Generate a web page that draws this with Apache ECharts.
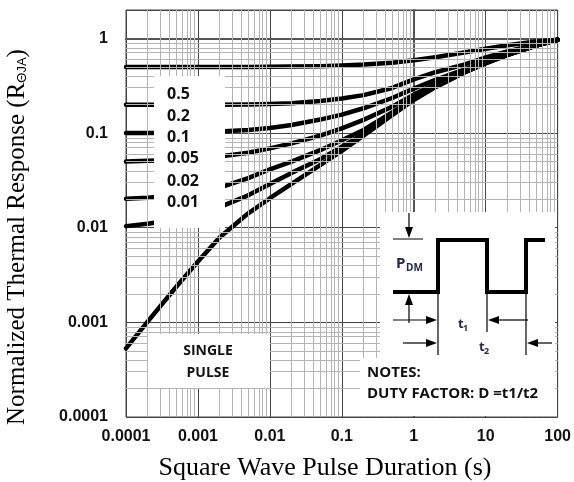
<!DOCTYPE html>
<html>
<head>
<meta charset="utf-8">
<script src="https://cdn.jsdelivr.net/npm/echarts@6/dist/echarts.min.js"></script>
<style>
  html, body { margin: 0; padding: 0; background: #fff; }
  #chart { width: 574px; height: 482px; }
</style>
</head>
<body>
<div id="chart"></div>
<script>
// pulse durations (s) where the curves were read
const pulseTimes = [1e-4, 2e-4, 5e-4, 1e-3, 2e-3, 5e-3, 0.01, 0.02, 0.05, 0.1, 0.2, 0.5, 1, 2, 5, 10, 20, 50, 100];

// normalized response for each duty factor
const duty05  = [0.5, 0.5, 0.5, 0.5, 0.5, 0.5, 0.502, 0.505, 0.51, 0.518, 0.53, 0.555, 0.59, 0.635, 0.71, 0.78, 0.85, 0.93, 0.97];
const duty02  = [0.2, 0.2, 0.2, 0.2, 0.2, 0.201, 0.203, 0.207, 0.218, 0.232, 0.252, 0.3, 0.37, 0.44, 0.53, 0.63, 0.73, 0.865, 0.97];
const duty01  = [0.1, 0.1, 0.101, 0.102, 0.104, 0.108, 0.113, 0.122, 0.139, 0.157, 0.183, 0.235, 0.295, 0.365, 0.47, 0.575, 0.685, 0.845, 0.97];
const duty005 = [0.05, 0.051, 0.052, 0.054, 0.0565, 0.062, 0.069, 0.078, 0.094, 0.112, 0.138, 0.19, 0.255, 0.33, 0.445, 0.56, 0.675, 0.84, 0.97];
const duty002 = [0.0202, 0.0207, 0.022, 0.0238, 0.0265, 0.0335, 0.0415, 0.05, 0.066, 0.084, 0.108, 0.165, 0.235, 0.315, 0.44, 0.555, 0.67, 0.84, 0.97];
const duty001 = [0.0104, 0.011, 0.0122, 0.014, 0.0165, 0.022, 0.029, 0.038, 0.053, 0.072, 0.098, 0.158, 0.229, 0.31, 0.437, 0.55, 0.668, 0.84, 0.97];
const singlePulse = [0.00053, 0.00102, 0.00238, 0.0044, 0.0079, 0.0142, 0.0205, 0.029, 0.046, 0.065, 0.094, 0.155, 0.224, 0.306, 0.434, 0.545, 0.67, 0.84, 0.97];

const dutyLabels = ['0.5', '0.2', '0.1', '0.05', '0.02', '0.01'];
const xTickLabels = ['0.0001', '0.001', '0.01', '0.1', '1', '10', '100'];
const yTickLabels = ['0.0001', '0.001', '0.01', '0.1', '1'];

const curves = [duty05, duty02, duty01, duty005, duty002, duty001, singlePulse];

function toLogPoints(values) {
  return values.map((v, i) => [Math.log10(pulseTimes[i]), Math.log10(v)]);
}

// minor grid positions (2..9 of every decade)
const minorX = [];
for (let d = -4; d < 2; d++) {
  for (let k = 2; k <= 9; k++) minorX.push(d + Math.log10(k));
}
const minorY = [];
for (let d = -4; d < 0; d++) {
  for (let k = 2; k <= 9; k++) minorY.push(d + Math.log10(k));
}

function arrow(x1, y1, x2, y2) {
  const len = Math.hypot(x2 - x1, y2 - y1);
  const ux = (x2 - x1) / len, uy = (y2 - y1) / len;
  const hl = 11, hw = 4;
  const bx = x2 - ux * hl, by = y2 - uy * hl;
  return [
    { type: 'line', z: 12, shape: { x1: x1, y1: y1, x2: bx, y2: by }, style: { stroke: '#000', lineWidth: 1.2 } },
    { type: 'polygon', z: 12, shape: { points: [[x2, y2], [bx - uy * hw, by + ux * hw], [bx + uy * hw, by - ux * hw]] }, style: { fill: '#000' } }
  ];
}

const labelFont = { fontFamily: '"Open Sans", sans-serif', fontWeight: 'bold', fill: '#111' };
const serif = '"Liberation Serif", "Times New Roman", serif';

const graphics = [
  // white boxes over the grid
  { type: 'rect', z: 10, shape: { x: 154, y: 76, width: 71, height: 152 }, style: { fill: '#fff' } },
  { type: 'rect', z: 10, shape: { x: 148, y: 334, width: 122, height: 54 }, style: { fill: '#fff' } },
  { type: 'rect', z: 10, shape: { x: 380, y: 212, width: 175, height: 204 }, style: { fill: '#fff' } },
  { type: 'rect', z: 10, shape: { x: 360, y: 358, width: 195, height: 58 }, style: { fill: '#fff' } },
  // square wave
  { type: 'polyline', z: 12, shape: { points: [[393, 292], [438, 292], [438, 240], [487, 240], [487, 292], [526, 292], [526, 240], [545, 240]] },
    style: { stroke: '#000', lineWidth: 4, fill: null } },
  { type: 'line', z: 12, shape: { x1: 393, y1: 239, x2: 423, y2: 239 }, style: { stroke: '#000', lineWidth: 1 } },
  { type: 'line', z: 12, shape: { x1: 438, y1: 292, x2: 438, y2: 355 }, style: { stroke: '#000', lineWidth: 1.2 } },
  { type: 'line', z: 12, shape: { x1: 487, y1: 292, x2: 487, y2: 332 }, style: { stroke: '#000', lineWidth: 1.2 } },
  { type: 'line', z: 12, shape: { x1: 526, y1: 292, x2: 526, y2: 355 }, style: { stroke: '#000', lineWidth: 1.2 } },
  ...arrow(409, 213, 409, 238),
  ...arrow(409, 323, 409, 294),
  ...arrow(393, 320, 437, 320),
  ...arrow(528, 320, 488, 320),
  ...arrow(403, 343, 437, 343),
  ...arrow(552, 343, 527, 343),
  { type: 'text', z: 12, style: { text: 'P', x: 396, y: 264, fontSize: 15, ...labelFont, fill: '#22264a', verticalAlign: 'middle' } },
  { type: 'text', z: 12, style: { text: 'DM', x: 406, y: 268, fontSize: 10, ...labelFont, fill: '#22264a', verticalAlign: 'middle' } },
  { type: 'text', z: 12, style: { text: 't', x: 458, y: 324, fontSize: 13, ...labelFont, fill: '#22264a', verticalAlign: 'middle' } },
  { type: 'text', z: 12, style: { text: '1', x: 463, y: 328, fontSize: 9, ...labelFont, fill: '#22264a', verticalAlign: 'middle' } },
  { type: 'text', z: 12, style: { text: 't', x: 479, y: 347, fontSize: 13, ...labelFont, fill: '#22264a', verticalAlign: 'middle' } },
  { type: 'text', z: 12, style: { text: '2', x: 484, y: 351, fontSize: 9, ...labelFont, fill: '#22264a', verticalAlign: 'middle' } },
  { type: 'text', z: 12, style: { text: 'NOTES:', x: 367, y: 373, fontSize: 15, ...labelFont, verticalAlign: 'middle' } },
  { type: 'text', z: 12, style: { text: 'DUTY FACTOR: D =t1/t2', x: 367, y: 394, fontSize: 15, ...labelFont, verticalAlign: 'middle' } },
  { type: 'text', z: 12, style: { text: 'SINGLE', x: 208, y: 351, fontSize: 14, ...labelFont, align: 'center', verticalAlign: 'middle' } },
  { type: 'text', z: 12, style: { text: 'PULSE', x: 208, y: 373, fontSize: 14, ...labelFont, align: 'center', verticalAlign: 'middle' } },
  // axis titles
  { type: 'text', z: 12, x: 325, y: 468, style: { text: 'Square Wave Pulse Duration (s)', fontFamily: serif, fontSize: 26, fill: '#000', align: 'center', verticalAlign: 'middle' } },
  { type: 'text', z: 12, x: 17, y: 237, rotation: Math.PI / 2,
    style: { text: 'Normalized Thermal Response (R{s|ΘJA})', fontFamily: serif, fontSize: 25, fill: '#000', align: 'center', verticalAlign: 'middle',
      rich: { s: { fontFamily: '"Liberation Sans", Arial, sans-serif', fontSize: 13, fill: '#000', padding: [10, 0, 0, 0] } } } }
];

const dutyLabelY = [94, 116, 137.5, 158.5, 181, 202.5];
dutyLabels.forEach((t, i) => {
  graphics.push({ type: 'text', z: 12, style: { text: t, x: 167, y: dutyLabelY[i], fontSize: 16, ...labelFont, verticalAlign: 'middle' } });
});

const series = curves.map(c => ({
  type: 'line',
  data: toLogPoints(c),
  showSymbol: false,
  smooth: false,
  lineStyle: { color: '#000', width: 4.5, join: 'round', cap: 'round' },
  z: 3
}));

series.push({
  type: 'line',
  data: [],
  silent: true,
  z: 1,
  markLine: {
    silent: true,
    symbol: ['none', 'none'],
    label: { show: false },
    animation: false,
    lineStyle: { color: '#b4b4b4', width: 1, type: 'solid' },
    data: minorX.map(v => ({ xAxis: v })).concat(minorY.map(v => ({ yAxis: v })))
  }
});

const chart = echarts.init(document.getElementById('chart'));
chart.setOption({
  animation: false,
  backgroundColor: '#fff',
  grid: { left: 126, top: 10, width: 432, height: 407, show: true, borderColor: '#444', borderWidth: 1 },
  xAxis: {
    type: 'value',
    min: -4,
    max: 2,
    interval: 1,
    axisLine: { lineStyle: { color: '#555', width: 2 } },
    axisTick: { show: false },
    splitLine: { show: true, lineStyle: { color: '#444', width: 1 } },
    axisLabel: {
      margin: 12,
      color: '#111',
      fontFamily: '"Liberation Sans", Arial, sans-serif',
      fontWeight: 'bold',
      fontSize: 16,
      formatter: v => xTickLabels[Math.round(v) + 4]
    }
  },
  yAxis: {
    type: 'value',
    min: -4,
    max: Math.log10(2),
    interval: 1,
    axisLine: { show: true, lineStyle: { color: '#555', width: 2 } },
    axisTick: { show: false },
    splitLine: { show: true, lineStyle: { color: '#444', width: 1 } },
    axisLabel: {
      margin: 18,
      color: '#111',
      fontFamily: '"Liberation Sans", Arial, sans-serif',
      fontWeight: 'bold',
      fontSize: 16,
      formatter: v => (Math.abs(v - Math.round(v)) < 1e-9 ? yTickLabels[Math.round(v) + 4] : '')
    }
  },
  graphic: graphics,
  series: series
});
</script>
</body>
</html>
